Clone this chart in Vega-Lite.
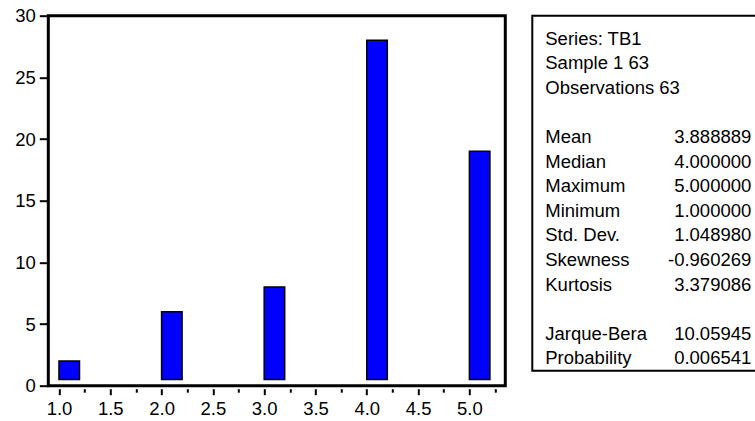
{
  "$schema": "https://vega.github.io/schema/vega-lite/v6.json",
  "autosize": {"type": "pad"},
  "padding": {"left": 12.3, "top": 4.7, "right": 0, "bottom": 0},
  "background": "white",
  "bounds": "flush",
  "spacing": 27,
  "config": {
    "font": "Liberation Sans",
    "view": {"stroke": "black", "strokeWidth": 3}
  },
  "hconcat": [
    {
      "width": 457,
      "height": 370,
      "data": {"values": [
        {"value": 1, "end": 1.2, "count": 2},
        {"value": 2, "end": 2.2, "count": 6},
        {"value": 3, "end": 3.2, "count": 8},
        {"value": 4, "end": 4.2, "count": 28},
        {"value": 5, "end": 5.2, "count": 19}
      ]},
      "layer": [
        {
          "mark": {"type": "bar", "fill": "#0000FF", "stroke": "black", "strokeWidth": 1.5},
          "encoding": {
            "x": {
              "field": "value", "type": "quantitative",
              "scale": {"domain": [0.896, 5.35], "nice": false, "zero": false},
              "axis": {
                "orient": "bottom", "title": null, "values": [1, 1.5, 2, 2.5, 3, 3.5, 4, 4.5, 5],
                "format": ".1f", "domain": false, "grid": false, "offset": 3,
                "tickSize": 6, "tickWidth": 2, "tickColor": "black",
                "labelFontSize": 18.5, "labelColor": "black", "labelPadding": 5,
                "labelFlush": false, "labelOverlap": false
              }
            },
            "x2": {"field": "end"},
            "y": {
              "field": "count", "type": "quantitative",
              "scale": {"domain": [0, 30], "nice": false},
              "axis": {
                "title": null, "values": [0, 5, 10, 15, 20, 25, 30], "domain": false, "grid": false,
                "tickSize": 9, "tickWidth": 2, "tickColor": "black",
                "labelFontSize": 18.5, "labelColor": "black", "labelPadding": 4,
                "labelOverlap": false, "labelFlush": false
              }
            },
            "y2": {"datum": 0.5}
          }
        },
        {
          "mark": {"type": "rule", "opacity": 0},
          "encoding": {
            "x": {
              "field": "value", "type": "quantitative",
              "axis": {
                "orient": "bottom", "title": null, "values": [1.25, 1.75, 2.25, 2.75, 3.25, 3.75, 4.25, 4.75, 5.25],
                "labels": false, "domain": false, "grid": false, "offset": 3,
                "tickSize": 3.5, "tickWidth": 2, "tickColor": "black"
              }
            }
          }
        }
      ],
      "resolve": {"axis": {"x": "independent"}}
    },
    {
      "width": 226,
      "height": 355,
      "view": {"stroke": "black", "strokeWidth": 2, "fill": "white"},
      "data": {"values": [
        {"line": 0, "label": "Series: TB1", "value": ""},
        {"line": 1, "label": "Sample 1 63", "value": ""},
        {"line": 2, "label": "Observations 63", "value": ""},
        {"line": 4, "label": "Mean", "value": "3.888889"},
        {"line": 5, "label": "Median", "value": "4.000000"},
        {"line": 6, "label": "Maximum", "value": "5.000000"},
        {"line": 7, "label": "Minimum", "value": "1.000000"},
        {"line": 8, "label": "Std. Dev.", "value": "1.048980"},
        {"line": 9, "label": "Skewness", "value": "-0.960269"},
        {"line": 10, "label": "Kurtosis", "value": "3.379086"},
        {"line": 12, "label": "Jarque-Bera", "value": "10.05945"},
        {"line": 13, "label": "Probability", "value": "0.006541"}
      ]},
      "layer": [
        {
          "mark": {"type": "text", "align": "left", "baseline": "middle", "fontSize": 18.5, "color": "black"},
          "encoding": {
            "x": {"datum": 0.0575, "type": "quantitative", "scale": {"domain": [0, 1], "nice": false, "zero": false}, "axis": null},
            "y": {"field": "line", "type": "quantitative", "scale": {"domain": [-0.935, 13.5], "reverse": true, "nice": false, "zero": false}, "axis": null},
            "text": {"field": "label"}
          }
        },
        {
          "mark": {"type": "text", "align": "right", "baseline": "middle", "fontSize": 18.5, "color": "black"},
          "encoding": {
            "x": {"datum": 0.969, "type": "quantitative", "axis": null},
            "y": {"field": "line", "type": "quantitative", "axis": null},
            "text": {"field": "value"}
          }
        }
      ]
    }
  ]
}
